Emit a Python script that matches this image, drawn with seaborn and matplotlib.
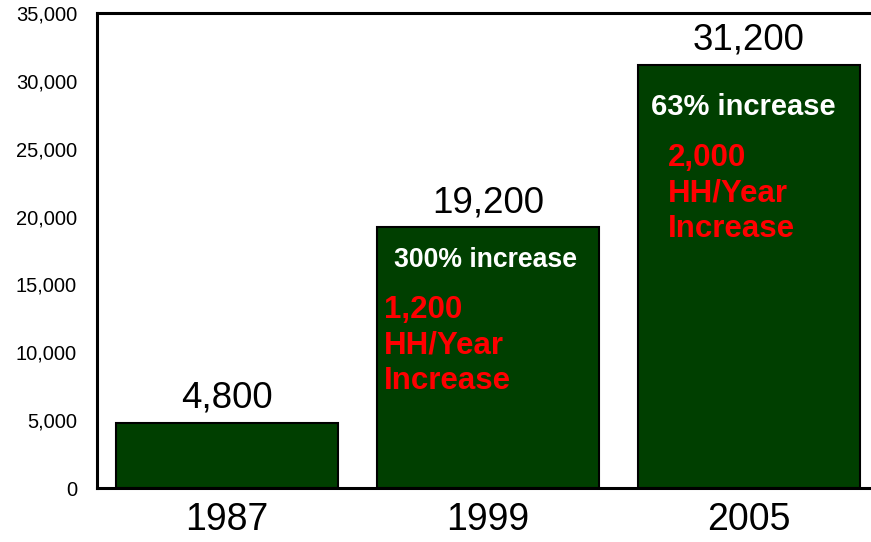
import pandas as pd
import numpy as np
import matplotlib
matplotlib.use('Agg')
import matplotlib.pyplot as plt
import seaborn as sns

# data
years = ['1987', '1999', '2005']
households = [4800, 19200, 31200]
pct_labels = ['', '300% increase', '63% increase']
pct_y = [0, 16800, 28050]
rate_labels = ['', '1,200\nHH/Year\nIncrease', '2,000\nHH/Year\nIncrease']
rate_y = [0, 14250, 25450]
yticks = [0, 5000, 10000, 15000, 20000, 25000, 30000, 35000]

df = pd.DataFrame({'year': years, 'hh': households})

sns.set_style('white')
plt.rcParams['font.family'] = ['Liberation Sans', 'DejaVu Sans']

fig = plt.figure(figsize=(8.71, 5.42), dpi=100)
ax = fig.add_axes([96.5 / 871, 54 / 542, 783 / 871, 475 / 542])

sns.barplot(data=df, x='year', y='hh', color='#003f00', saturation=1,
            width=0.85, edgecolor='black', linewidth=1.5, ax=ax)

ax.set_xlim(-0.5, 2.5)
ax.set_ylim(0, 35000)
ax.set_yticks(yticks)
ax.set_yticklabels([f'{v:,}' for v in yticks], fontsize=14.5)
ax.tick_params(axis='x', labelsize=27, pad=10, length=0, labelcolor='black')
ax.tick_params(axis='y', pad=14, length=0, labelcolor='black')
ax.set_xlabel('')
ax.set_ylabel('')

for side in ['left', 'top', 'bottom']:
    ax.spines[side].set_linewidth(2.2)
    ax.spines[side].set_color('black')
ax.spines['right'].set_visible(False)

ax.bar_label(ax.containers[0], labels=[f'{v:,}' for v in households],
             fontsize=26.5, padding=5, color='black')

# white percentage notes
pct_size = [0, 19.2, 21]
pct_dx = [0, -0.01, -0.02]
for i, (txt, y) in enumerate(zip(pct_labels, pct_y)):
    if txt:
        ax.text(i + pct_dx[i], y, txt, color='white', fontsize=pct_size[i],
                fontweight='bold', ha='center', va='center')

# red rate notes
offsets = [0, -0.40, -0.31]
for i, (txt, y) in enumerate(zip(rate_labels, rate_y)):
    if txt:
        ax.text(i + offsets[i], y, txt, color='red', fontsize=22.5, fontweight='bold',
                ha='left', va='top', linespacing=1.25)

fig.savefig('out.png', dpi=100)
